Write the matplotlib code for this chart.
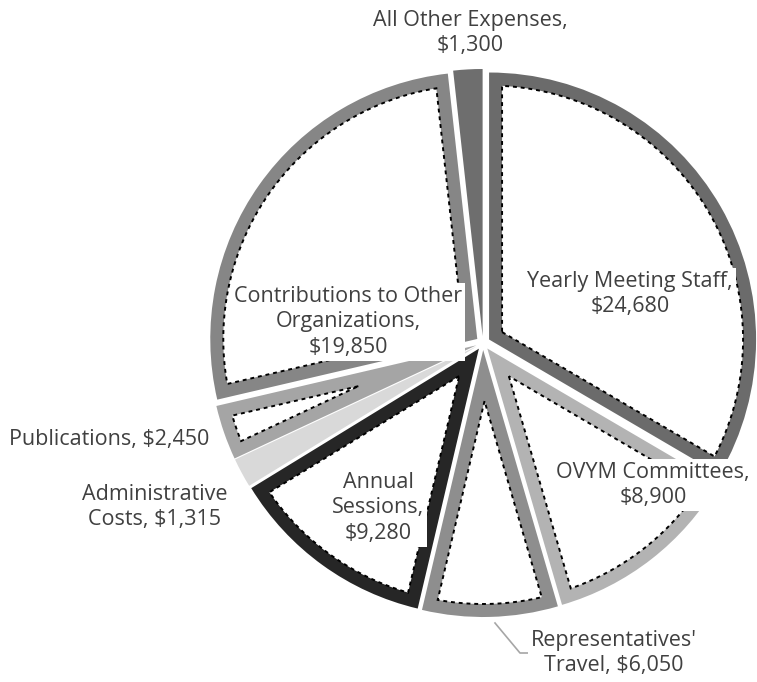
import numpy as np
import matplotlib.pyplot as plt
from matplotlib.patches import Polygon

plt.rcParams['font.family'] = ['Open Sans', 'DejaVu Sans']

categories = ['Yearly Meeting Staff', 'OVYM Committees', "Representatives'\nTravel",
              'Annual\nSessions', 'Administrative\nCosts', 'Publications',
              'Contributions to Other\nOrganizations', 'All Other Expenses']
amounts = [24680, 8900, 6050, 9280, 1315, 2450, 19850, 1300]
label_texts = ['Yearly Meeting Staff,\n$24,680', 'OVYM Committees,\n$8,900',
               "Representatives'\nTravel, $6,050", 'Annual\nSessions,\n$9,280',
               'Administrative\nCosts, $1,315', 'Publications, $2,450',
               'Contributions to Other\nOrganizations,\n$19,850',
               'All Other Expenses,\n$1,300']
colors = ['#6b6b6b', '#b3b3b3', '#8e8e8e', '#262626', '#d9d9d9', '#a5a5a5',
          '#868686', '#6e6e6e']

# label centres in pixel coords (x, y from top)
label_pos = [(630, 294), (653, 485), (614, 653), (378, 508), (155, 507),
             (109, 440), (348, 322), (470, 33)]

W, H = 757, 682
fig = plt.figure(figsize=(W / 100, H / 100), dpi=100)
ax = fig.add_axes([0, 0, 1, 1])

r = 267
wedges, _ = ax.pie(amounts, colors=colors, radius=r, center=(483, H - 343),
                   startangle=90, counterclock=False, explode=[7] * len(amounts),
                   wedgeprops=dict(linewidth=0), frame=True)
ax.set_xlim(0, W)
ax.set_ylim(0, H)
ax.set_aspect('equal')
ax.axis('off')

# white inner part of each slice, leaving a coloured band
d = 13
for w in wedges:
    cx, cy = w.center
    t1, t2 = np.radians(w.theta1), np.radians(w.theta2)
    half = (t2 - t1) / 2
    apex_dist = d / np.sin(half)
    if apex_dist > 0.75 * (r - d):
        continue
    mid = (t1 + t2) / 2
    delta = np.arcsin(d / (r - d))
    arc = np.linspace(t1 + delta, t2 - delta, 80)
    pts = [(cx + apex_dist * np.cos(mid), cy + apex_dist * np.sin(mid))]
    pts += [(cx + (r - d) * np.cos(a), cy + (r - d) * np.sin(a)) for a in arc]
    ax.add_patch(Polygon(pts, closed=True, facecolor='white', edgecolor='black',
                         linewidth=1.4, linestyle=(0, (2, 2)), zorder=3))

# leader line for Representatives' Travel
ax.plot([495, 520, 531], [H - 623, H - 653, H - 653], color='#a6a6a6', lw=1.2, zorder=4)

for txt, (x, y) in zip(label_texts, label_pos):
    ax.text(x, H - y, txt, ha='center', va='center', fontsize=15.5, color='#404040',
            linespacing=1.3, zorder=5,
            bbox=dict(facecolor='white', edgecolor='none', pad=2))

fig.savefig('out.png', dpi=100)
